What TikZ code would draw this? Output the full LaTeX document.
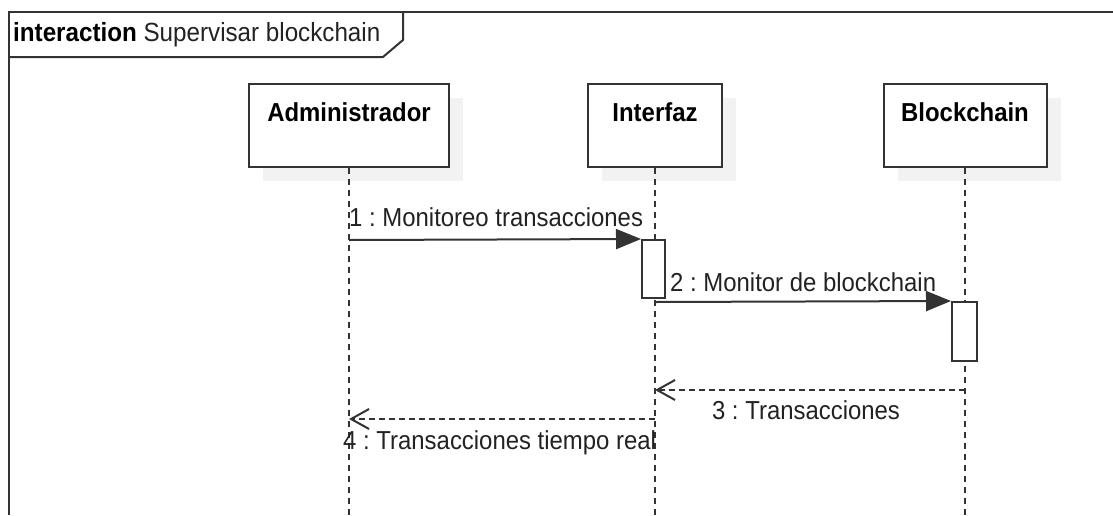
\documentclass[tikz,border=0pt]{standalone}
\usepackage{fontspec}
\setmainfont{Liberation Sans}
\newfontfamily\labfont[FakeStretch=0.92]{Liberation Sans}
\usetikzlibrary{arrows.meta,shadows}
\definecolor{linec}{HTML}{333333}
\definecolor{textc}{HTML}{222222}
\definecolor{shadowc}{HTML}{F2F2F2}
\frenchspacing
\begin{document}
\begin{tikzpicture}[x=1pt,y=-1pt,
  frameline/.style={draw=linec,line width=2pt},
  lifebox/.style={draw=linec,line width=2pt,fill=white,minimum height=83pt,inner sep=0pt,
    drop shadow={shadow xshift=14pt,shadow yshift=-14pt,fill=shadowc,opacity=1}},
  boxlabel/.style={font=\labfont\fontsize{26}{30}\selectfont\bfseries,text=black,inner sep=0pt},
  lifeline/.style={draw=linec,line width=1.5pt,dash pattern=on 6pt off 5pt},
  actbox/.style={draw=linec,line width=2pt,fill=white,inner sep=0pt},
  msg/.style={draw=linec,line width=2pt,-{Triangle[length=25pt,width=20pt]}},
  ret/.style={draw=linec,line width=1.5pt,dash pattern=on 6pt off 4pt,-{Straight Barb[length=18pt,width=20pt,line width=2pt]}},
  msglabel/.style={font=\labfont\fontsize{26}{30}\selectfont,text=textc,inner sep=0pt}]
\useasboundingbox (0,0) rectangle (1113,515);
% frame
\draw[frameline] (1113,12) -- (9,12) -- (9,515);
\draw[frameline] (9,57) -- (383,57) -- (403,40) -- (403,12);
\node[anchor=west,inner sep=0pt,text=textc,font=\labfont\fontsize{26.3}{30}\selectfont] (title) at (13,35)
  {\textbf{\color{black}interaction} Supervisar blockchain};
% lifeline heads
\node[lifebox,minimum width=200pt] (A) at (349,125.5) {};
\node[lifebox,minimum width=134pt] (I) at (655,125.5) {};
\node[lifebox,minimum width=163pt] (B) at (965,125.5) {};
\node[boxlabel] (Al) at (349,112) {Administrador};
\node[boxlabel] (Il) at (655,112) {Interfaz};
\node[boxlabel] (Bl) at (965,112) {Blockchain};
% lifelines
\coordinate (Ae) at (349,515);
\coordinate (Ie) at (655,515);
\coordinate (Be) at (965,515);
\draw[lifeline] (A.south) -- (Ae);
\draw[lifeline] (I.south) -- (Ie);
\draw[lifeline] (B.south) -- (Be);
% activations
\node[actbox,minimum width=23pt,minimum height=58pt] (a1) at (653.5,269) {};
\node[actbox,minimum width=25pt,minimum height=59pt] (a2) at (964.5,331.5) {};
% messages
\coordinate (m1s) at (349,240);
\draw[msg] (m1s) -- (a1.north west);
\node[msglabel,anchor=west] (l1) at (349,217) {1 : Monitoreo transacciones};
\coordinate (m2s) at (655,302);
\draw[msg] (m2s) -- (a2.north west);
\node[msglabel,anchor=west] (l2) at (670,282) {2 : Monitor de blockchain};
\coordinate (m3s) at (965,390);
\coordinate (m3e) at (655,390);
\draw[ret] (m3s) -- (m3e);
\node[msglabel] (l3) at (806,410) {3 : Transacciones};
\coordinate (m4s) at (655,419);
\coordinate (m4e) at (349,419);
\draw[ret] (m4s) -- (m4e);
\node[msglabel,anchor=west] (l4) at (343,443) {4 : Transacciones tiempo real};
\end{tikzpicture}
\end{document}
